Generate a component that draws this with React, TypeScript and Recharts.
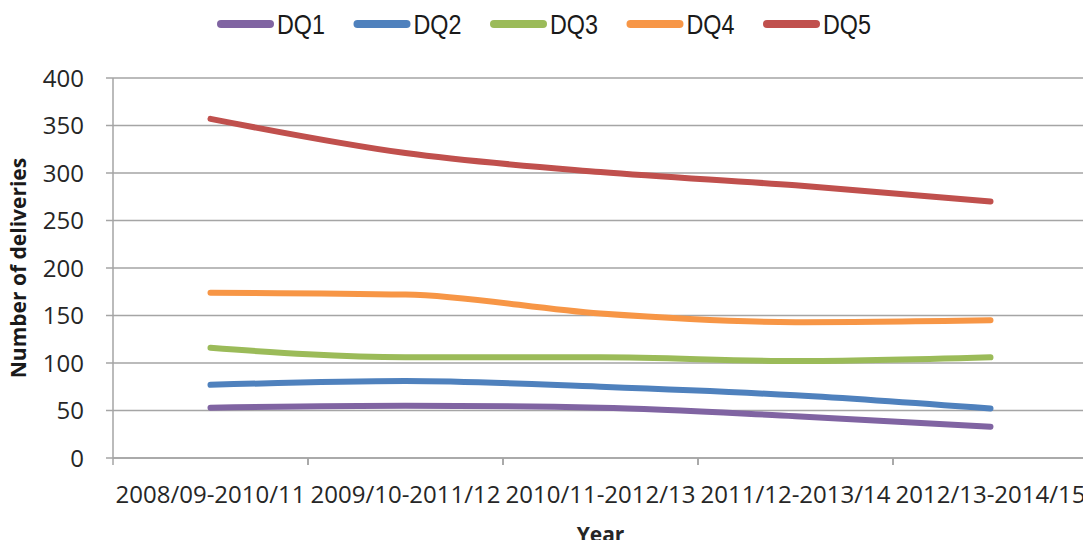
import React from 'react';
import { LineChart, Line, XAxis, YAxis, CartesianGrid, Legend, Label } from 'recharts';

const categories = ['2008/09-2010/11', '2009/10-2011/12', '2010/11-2012/13', '2011/12-2013/14', '2012/13-2014/15'];
const dq1 = [53, 55, 53, 44, 33];
const dq2 = [77, 81, 75, 66, 52];
const dq3 = [116, 106, 106, 102, 106];
const dq4 = [174, 172, 152, 143, 145];
const dq5 = [357, 321, 301, 287, 270];
const yTicks = [0, 50, 100, 150, 200, 250, 300, 350, 400];

const SERIES = [
  { key: 'DQ1', values: dq1, color: '#8064A2' },
  { key: 'DQ2', values: dq2, color: '#4F81BD' },
  { key: 'DQ3', values: dq3, color: '#9BBB59' },
  { key: 'DQ4', values: dq4, color: '#F79646' },
  { key: 'DQ5', values: dq5, color: '#C0504D' },
];

const data = categories.map((year, i) => {
  const row: Record<string, string | number> = { year };
  SERIES.forEach(s => { row[s.key] = s.values[i]; });
  return row;
});

const AXIS = '#A5A5A5';
const HALF_BAND = 97.5;
const TICK_FONT = '"Open Sans", "DejaVu Sans", sans-serif';

const XTick = (props: any) => {
  const { x, y, payload } = props;
  const axisY = y - 28;
  return (
    <g>
      <line x1={x - HALF_BAND} x2={x - HALF_BAND} y1={axisY} y2={axisY + 7} stroke={AXIS} strokeWidth={1.5} />
      <line x1={x + HALF_BAND} x2={x + HALF_BAND} y1={axisY} y2={axisY + 7} stroke={AXIS} strokeWidth={1.5} />
      <text x={x} y={y} dy="0.71em" textAnchor="middle" fill="#262626" fontSize={24} fontFamily={TICK_FONT}>
        {payload.value}
      </text>
    </g>
  );
};

// legend drawn as one svg row, items spaced like the original
const LegendContent = (props: any) => {
  const { payload } = props;
  const step = 136.5;
  return (
    <svg width={1083} height={40} style={{ display: 'block' }}>
      {payload.map((p: any, i: number) => {
        const x0 = 221 + i * step;
        return (
          <g key={p.value}>
            <line x1={x0} x2={x0 + 49} y1={20} y2={20} stroke={p.color} strokeWidth={8} strokeLinecap="round" />
            <text x={x0 + 56} y={30} fontSize={28} fill="#1a1a1a" textLength={48} lengthAdjust="spacingAndGlyphs"
              fontFamily='"Liberation Sans", Arial, sans-serif'>
              {p.value}
            </text>
          </g>
        );
      })}
    </svg>
  );
};

export default function App() {
  return (
    <div style={{ width: 1083, height: 540, overflow: 'hidden', background: '#fff' }}>
      <style>{'body{margin:0}'}</style>
      <LineChart width={1100} height={540} data={data} margin={{ top: 38, right: 12, bottom: 8, left: 0 }}>
        <Legend verticalAlign="top" align="left" content={<LegendContent />} wrapperStyle={{ top: 4, left: 0 }} />
        <CartesianGrid horizontal vertical={false} stroke={AXIS} strokeWidth={1.5} />
        <XAxis
          dataKey="year"
          interval={0}
          padding={{ left: HALF_BAND, right: HALF_BAND }}
          axisLine={{ stroke: AXIS, strokeWidth: 1.5 }}
          tickLine={false}
          tickSize={0}
          tickMargin={28}
          tick={<XTick />}
          height={74}
        >
          <Label value="Year" position="insideBottom" offset={-10} fill="#262626" fontSize={21} fontWeight="bold" fontFamily={TICK_FONT} />
        </XAxis>
        <YAxis
          domain={[0, 400]}
          ticks={yTicks}
          width={113}
          axisLine={{ stroke: AXIS, strokeWidth: 1.5 }}
          tickLine={{ stroke: AXIS, strokeWidth: 1.5 }}
          tickSize={7}
          tickMargin={22}
          tick={{ fill: '#262626', fontSize: 24, fontFamily: TICK_FONT }}
        >
          <Label value="Number of deliveries" angle={-90} position="insideLeft" offset={19} fill="#1a1a1a" fontSize={21} fontWeight="bold" fontFamily={TICK_FONT} style={{ textAnchor: 'middle' }} />
        </YAxis>
        {SERIES.map(s => (
          <Line
            key={s.key}
            type="monotone"
            dataKey={s.key}
            stroke={s.color}
            strokeWidth={6}
            strokeLinecap="round"
            dot={false}
            activeDot={false}
            isAnimationActive={false}
          />
        ))}
      </LineChart>
    </div>
  );
}
